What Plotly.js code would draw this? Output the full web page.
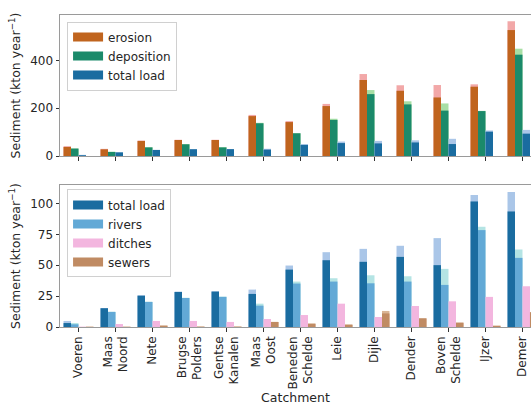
<!DOCTYPE html>
<html>
<head>
<meta charset="utf-8">
<script src="https://cdn.plot.ly/plotly-3.0.1.min.js"></script>
<style>html,body{margin:0;padding:0;background:#fff;}#chart{width:531px;height:408px;}</style>
</head>
<body>
<div id="chart"></div>
<script>
const catchments = ["Voeren","Maas<br>Noord","Nete","Brugse<br>Polders","Gentse<br>Kanalen","Maas<br>Oost","Beneden<br>Schelde","Leie","Dijle","Dender","Boven<br>Schelde","IJzer","Demer"];

// top panel (kton/year)
const erosion        = [38, 28, 63, 67, 67, 167, 142, 209, 318, 273, 245, 290, 527];
const erosionHigh    = [41, 30, 65, 68, 68, 172, 146, 218, 343, 296, 297, 300, 564];
const deposition     = [31, 17, 36, 49, 36, 137, 95, 151, 259, 216, 190, 188, 424];
const depositionHigh = [32, 18, 37, 50, 37, 139, 96, 156, 276, 229, 220, 189, 449];

// total load (both panels)
const totalLoad      = [3.2, 15.2, 25.4, 28.4, 28.7, 26.8, 46.5, 54.1, 52.8, 56.8, 50.1, 101.7, 93.6];
const totalLoadHigh  = [4.9, 15.4, 25.6, 28.6, 28.9, 30.3, 49.8, 60.6, 63.3, 65.8, 72.0, 106.9, 109.3];

// bottom panel components
const rivers      = [2.2, 12.2, 20.3, 23.5, 24.4, 17.3, 35.2, 36.8, 35.4, 36.8, 34.1, 78.5, 56.0];
const riversHigh  = [3.2, 12.4, 20.5, 23.7, 24.6, 18.9, 36.8, 39.5, 41.9, 41.1, 47.1, 81.2, 62.8];
const ditches     = [0.3, 2.4, 4.9, 4.9, 4.1, 6.5, 9.7, 18.9, 8.1, 17.0, 20.8, 24.4, 33.0];
const sewers      = [0.2, 0.2, 1.1, 0.3, 0.3, 4.1, 2.7, 1.9, 11.0, 7.0, 3.5, 1.0, 12.0];
const sewersHigh  = [0.2, 0.2, 1.1, 0.3, 0.3, 4.1, 2.7, 1.9, 13.0, 7.0, 3.5, 1.0, 12.0];

const C = {
  erosion:'#c0641e', erosionL:'#f2a8a8',
  deposition:'#1b8a6a', depositionL:'#a8dfa5',
  total:'#1a6ca0', totalL:'#aac6e8',
  rivers:'#62a9d6', riversL:'#b4e4e4',
  ditches:'#f3b6df', sewers:'#c08b63', sewersL:'#d9b596'
};

function bar(y, color, og, xa, ya){
  return {type:'bar', x:catchments, y:y, marker:{color:color, line:{width:0}},
          offsetgroup:og, xaxis:xa, yaxis:ya, showlegend:false, hoverinfo:'skip'};
}
function leg(name, color, legend, xa, ya){
  return {type:'scatter', mode:'lines', x:[null], y:[null], name:name,
          line:{color:color, width:9}, xaxis:xa, yaxis:ya, legend:legend, showlegend:true};
}

const data = [
  // top
  bar(erosionHigh, C.erosionL, 'a', 'x2', 'y2'), bar(erosion, C.erosion, 'a', 'x2', 'y2'),
  bar(depositionHigh, C.depositionL, 'b', 'x2', 'y2'), bar(deposition, C.deposition, 'b', 'x2', 'y2'),
  bar(totalLoadHigh, C.totalL, 'c', 'x2', 'y2'), bar(totalLoad, C.total, 'c', 'x2', 'y2'),
  // bottom
  bar(totalLoadHigh, C.totalL, 'a', 'x', 'y'), bar(totalLoad, C.total, 'a', 'x', 'y'),
  bar(riversHigh, C.riversL, 'b', 'x', 'y'), bar(rivers, C.rivers, 'b', 'x', 'y'),
  bar(ditches, C.ditches, 'c', 'x', 'y'),
  bar(sewersHigh, C.sewersL, 'd', 'x', 'y'), bar(sewers, C.sewers, 'd', 'x', 'y'),
  // legends
  leg('erosion', C.erosion, 'legend', 'x2', 'y2'),
  leg('deposition', C.deposition, 'legend', 'x2', 'y2'),
  leg('total load', C.total, 'legend', 'x2', 'y2'),
  leg('total load', C.total, 'legend2', 'x', 'y'),
  leg('rivers', C.rivers, 'legend2', 'x', 'y'),
  leg('ditches', C.ditches, 'legend2', 'x', 'y'),
  leg('sewers', C.sewers, 'legend2', 'x', 'y')
];

const FONT = 'DejaVu Sans, sans-serif';
const yTitle = 'Sediment (kton year<sup>−1</sup>)';
const TF = {family:FONT, size:12.5, color:'#262626'};
const axBase = {showline:true, mirror:true, linecolor:'#9a9a9a', linewidth:1, showgrid:false, zeroline:false,
                ticks:'outside', ticklen:3.5, tickwidth:1, tickcolor:'#333', automargin:false,
                tickfont:{family:FONT, size:12, color:'#262626'}};
const legBase = {xanchor:'left', yanchor:'top', bgcolor:'rgba(255,255,255,0.85)', bordercolor:'#d0d0d0',
                 borderwidth:1, font:{family:FONT, size:12, color:'#262626'}, itemwidth:30, tracegroupgap:0};

const layout = {
  width:531, height:408,
  margin:{l:60, r:0, t:15, b:81, pad:0},
  paper_bgcolor:'#ffffff', plot_bgcolor:'#ffffff',
  font:{family:FONT, size:12, color:'#262626'},
  barmode:'group', bargap:0.19, bargroupgap:0,
  xaxis:Object.assign({}, axBase, {domain:[0,1], anchor:'y', type:'category', range:[-0.5,12.23],
        tickangle:-90, title:{text:'Catchment', standoff:3, font:TF}}),
  yaxis:Object.assign({}, axBase, {domain:[0,0.455], anchor:'x', range:[0,115], tickvals:[0,25,50,75,100],
        title:{text:yTitle, standoff:6, font:TF}}),
  xaxis2:Object.assign({}, axBase, {domain:[0,1], anchor:'y2', matches:'x', type:'category', showticklabels:false}),
  yaxis2:Object.assign({}, axBase, {domain:[0.548,1], anchor:'x2', range:[0,590], tickvals:[0,200,400],
        title:{text:yTitle, standoff:6, font:TF}}),
  legend:Object.assign({}, legBase, {x:0.015, y:0.979}),
  legend2:Object.assign({}, legBase, {x:0.015, y:0.441}),
  showlegend:true
};

Plotly.newPlot('chart', data, layout, {staticPlot:true, displayModeBar:false});
</script>
</body>
</html>
